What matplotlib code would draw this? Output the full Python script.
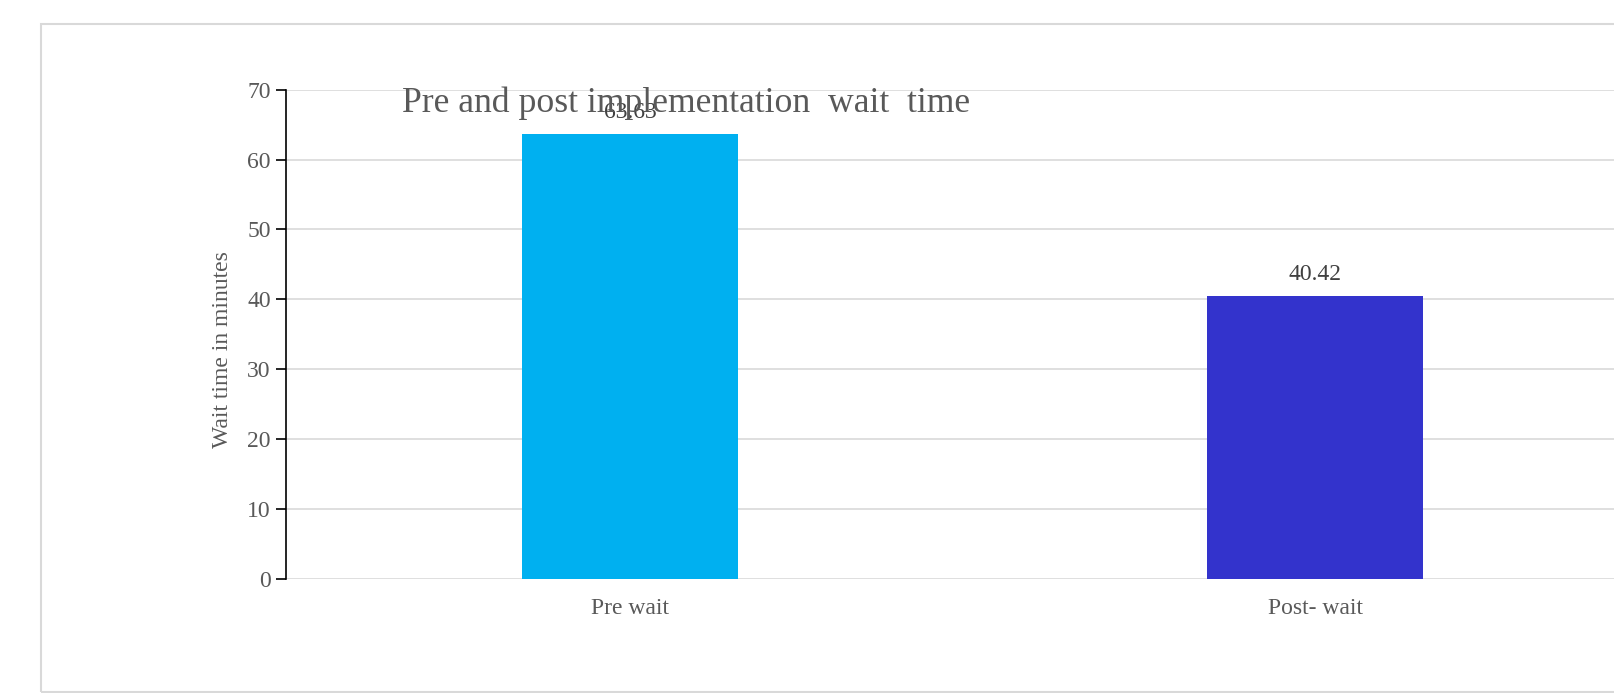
import matplotlib
matplotlib.use("Agg")
import matplotlib.pyplot as plt
from matplotlib.patches import Rectangle

categories = ["Pre wait", "Post- wait"]
wait_times = [63.63, 40.42]
bar_colors = ["#00B0F0", "#3333CC"]
y_ticks = [0, 10, 20, 30, 40, 50, 60, 70]

plt.rcParams["font.family"] = ["Liberation Serif", "DejaVu Serif"]
text_color = "#595959"

fig = plt.figure(figsize=(16.15, 6.93), dpi=100)
fig.patches.append(Rectangle((41 / 1615, 1 - 692 / 693), 1.2, (692 - 24) / 693,
                             transform=fig.transFigure, fill=False,
                             edgecolor="#d9d9d9", linewidth=1.5))

ax = fig.add_axes([286 / 1615, 1 - 579 / 693, 1373 / 1615, 489.4 / 693])
x = range(len(categories))
bars = ax.bar(list(x), wait_times, width=0.314, color=bar_colors, zorder=3)

ax.set_xlim(-0.502, len(categories) - 0.498)
ax.set_ylim(0, 70)
ax.set_yticks(y_ticks)
ax.set_xticks(list(x))
ax.set_xticklabels(categories)
ax.yaxis.grid(True, color="#d9d9d9", linewidth=1.2, zorder=0)
ax.set_axisbelow(True)

for side in ["top", "right", "bottom"]:
    ax.spines[side].set_visible(False)
ax.spines["left"].set_color("black")
ax.spines["left"].set_linewidth(1.2)
ax.tick_params(axis="y", length=7, width=1.2, color="black", labelsize=17,
               labelcolor=text_color, pad=4)
ax.tick_params(axis="x", length=0, labelsize=17, labelcolor=text_color, pad=14)

ax.set_ylabel("Wait time in minutes", fontsize=17, color=text_color, labelpad=10)
ax.yaxis.label.set_y(0.469)

for bar, v in zip(bars, wait_times):
    ax.annotate(f"{v:.2f}", xy=(bar.get_x() + bar.get_width() / 2, v),
                xytext=(0, 8), textcoords="offset points",
                ha="center", va="bottom", fontsize=17, color="#404040")

# title sits inside the plot area, overlapping the first data label as in the source
fig.text(402 / 1615, 1 - 112 / 693, "Pre and post implementation  wait  time",
         fontsize=25.7, color=text_color, ha="left", va="baseline")

fig.savefig("out.png", dpi=100)
